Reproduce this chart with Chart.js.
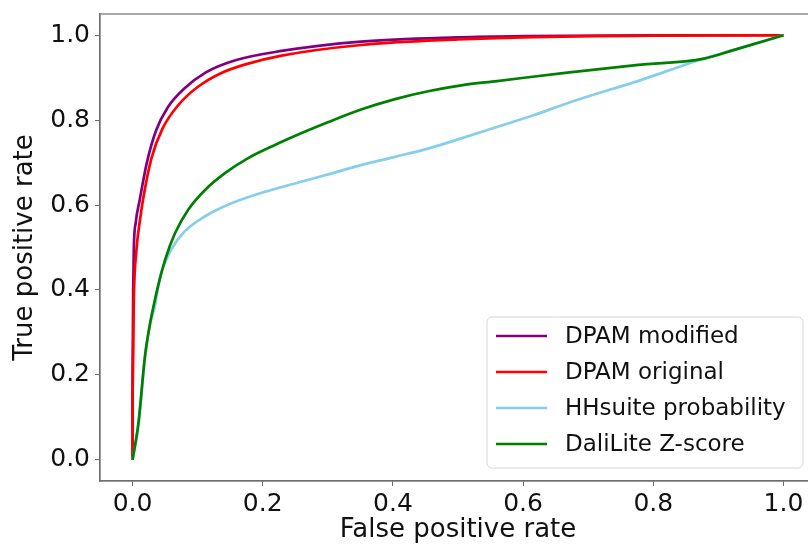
<!DOCTYPE html>
<html>
<head>
<meta charset="utf-8">
<script src="https://cdn.jsdelivr.net/npm/chart.js@4/dist/chart.umd.min.js"></script>
<style>
  html, body { margin: 0; padding: 0; background: #fff; overflow: hidden; }
  #wrap { width: 816px; height: 546px; }
</style>
</head>
<body>
<div id="wrap"><canvas id="rocChart" width="816" height="546"></canvas></div>
<script>
const seriesNames = ['DPAM modified', 'DPAM original', 'HHsuite probability', 'DaliLite Z-score'];
const seriesColors = ['#800080', '#ff0000', '#87ceeb', '#008000'];
const xTicks = [0.0, 0.2, 0.4, 0.6, 0.8, 1.0];
const yTicks = [0.0, 0.2, 0.4, 0.6, 0.8, 1.0];

const dpamModFpr = [0, 0, 0.001, 0.002, 0.005, 0.011, 0.022, 0.036, 0.054, 0.080, 0.112, 0.158, 0.229, 0.351, 0.5, 0.6, 0.8, 1.0];
const dpamModTpr = [0, 0.20, 0.40, 0.50, 0.56, 0.612, 0.70, 0.775, 0.83, 0.875, 0.912, 0.941, 0.963, 0.985, 0.995, 0.998, 1.0, 1.0];

const dpamOrigFpr = [0, 0, 0.002, 0.006, 0.011, 0.016, 0.029, 0.046, 0.070, 0.100, 0.135, 0.175, 0.229, 0.351, 0.5, 0.6, 0.8, 1.0];
const dpamOrigTpr = [0, 0.165, 0.38, 0.494, 0.56, 0.612, 0.71, 0.78, 0.835, 0.878, 0.91, 0.932, 0.952, 0.977, 0.990, 0.995, 0.999, 1.0];

const hhsuiteFpr = [0, 0.009, 0.019, 0.027, 0.034, 0.039, 0.044, 0.050, 0.060, 0.080, 0.111, 0.152, 0.203, 0.259, 0.300, 0.351, 0.402, 0.454, 0.505, 0.556, 0.617, 0.668, 0.719, 0.770, 0.822, 0.878, 0.923, 1.0];
const hhsuiteTpr = [0, 0.08, 0.24, 0.32, 0.36, 0.405, 0.44, 0.465, 0.497, 0.538, 0.573, 0.604, 0.631, 0.655, 0.672, 0.694, 0.713, 0.733, 0.757, 0.782, 0.812, 0.840, 0.865, 0.889, 0.916, 0.945, 0.965, 1.0];

const daliFpr = [0, 0.009, 0.019, 0.027, 0.032, 0.039, 0.050, 0.065, 0.085, 0.111, 0.142, 0.177, 0.218, 0.259, 0.300, 0.351, 0.402, 0.454, 0.505, 0.560, 0.668, 0.770, 0.878, 0.923, 1.0];
const daliTpr = [0, 0.086, 0.243, 0.322, 0.36, 0.408, 0.471, 0.533, 0.588, 0.635, 0.675, 0.71, 0.741, 0.769, 0.795, 0.825, 0.849, 0.868, 0.882, 0.892, 0.912, 0.929, 0.945, 0.965, 1.0];

const toPoints = (xs, ys) => xs.map((x, i) => ({ x: x, y: ys[i] }));
const allFpr = [dpamModFpr, dpamOrigFpr, hhsuiteFpr, daliFpr];
const allTpr = [dpamModTpr, dpamOrigTpr, hhsuiteTpr, daliTpr];

const axisColor = '#6e6e6e';
const textColor = '#111';
const fontFamily = "'DejaVu Sans', sans-serif";

// frame round the plot, like matplotlib spines
const framePlugin = {
  id: 'frame',
  afterDatasetsDraw(chart) {
    const { ctx, chartArea: a } = chart;
    ctx.save();
    ctx.strokeStyle = axisColor;
    ctx.lineWidth = 1.2;
    ctx.strokeRect(a.left, a.top, a.right - a.left, a.bottom - a.top);
    ctx.restore();
  }
};

// legend box in the lower right corner of the plot
const boxLegendPlugin = {
  id: 'boxLegend',
  afterDraw(chart) {
    const { ctx, chartArea: a } = chart;
    const w = 316, h = 151;
    const left = a.right - 13 - w;
    const top = a.bottom - 13 - h;
    ctx.save();
    ctx.beginPath();
    ctx.roundRect(left, top, w, h, 5);
    ctx.fillStyle = 'rgba(255,255,255,0.85)';
    ctx.fill();
    ctx.strokeStyle = '#d6d6d6';
    ctx.lineWidth = 1;
    ctx.stroke();
    ctx.font = '23px ' + fontFamily;
    ctx.textBaseline = 'middle';
    chart.data.datasets.forEach((ds, i) => {
      const y = top + 19 + i * 36;
      ctx.beginPath();
      ctx.moveTo(left + 9, y);
      ctx.lineTo(left + 60, y);
      ctx.strokeStyle = ds.borderColor;
      ctx.lineWidth = 2.5;
      ctx.stroke();
      ctx.fillStyle = textColor;
      ctx.fillText(ds.label, left + 78, y + 1);
    });
    ctx.restore();
  }
};

const ctx = document.getElementById('rocChart').getContext('2d');
const rocChart = new Chart(ctx, {
  type: 'line',
  data: {
    datasets: seriesNames.map((name, i) => ({
      label: name,
      data: toPoints(allFpr[i], allTpr[i]),
      borderColor: seriesColors[i],
      backgroundColor: seriesColors[i],
      borderWidth: 2.7,
      pointRadius: 0,
      fill: false,
      cubicInterpolationMode: 'monotone',
      order: seriesNames.length - i
    }))
  },
  options: {
    responsive: false,
    animation: false,
    devicePixelRatio: 1,
    layout: { padding: { top: 14, right: 0, bottom: 0, left: 0 } },
    scales: {
      x: {
        type: 'linear',
        min: -0.05,
        max: 1.05,
        afterBuildTicks: (scale) => { scale.ticks = xTicks.map(v => ({ value: v })); },
        afterFit: (scale) => { scale.height = 65; scale.paddingLeft = 0; scale.paddingRight = 0; },
        ticks: {
          color: textColor,
          font: { family: fontFamily, size: 25 },
          padding: 3,
          maxRotation: 0,
          callback: (v) => v.toFixed(1)
        },
        grid: { display: true, drawOnChartArea: false, drawTicks: true, tickLength: 5, color: axisColor },
        border: { display: true, color: axisColor, width: 1.2 },
        title: {
          display: true,
          text: 'False positive rate',
          color: textColor,
          font: { family: fontFamily, size: 26 },
          padding: { top: 0, bottom: 0 }
        }
      },
      y: {
        type: 'linear',
        min: -0.05,
        max: 1.05,
        afterBuildTicks: (scale) => { scale.ticks = yTicks.map(v => ({ value: v })); },
        afterFit: (scale) => { scale.width = 100; scale.paddingTop = 0; scale.paddingBottom = 0; },
        ticks: {
          color: textColor,
          font: { family: fontFamily, size: 25 },
          padding: 5,
          callback: (v) => v.toFixed(1)
        },
        grid: { display: true, drawOnChartArea: false, drawTicks: true, tickLength: 5, color: axisColor },
        border: { display: true, color: axisColor, width: 1.2 },
        title: {
          display: true,
          text: 'True positive rate',
          color: textColor,
          font: { family: fontFamily, size: 26 },
          padding: { top: 10, bottom: 0 }
        }
      }
    },
    plugins: {
      legend: { display: false },
      tooltip: { enabled: false }
    }
  },
  plugins: [framePlugin, boxLegendPlugin]
});
</script>
</body>
</html>
